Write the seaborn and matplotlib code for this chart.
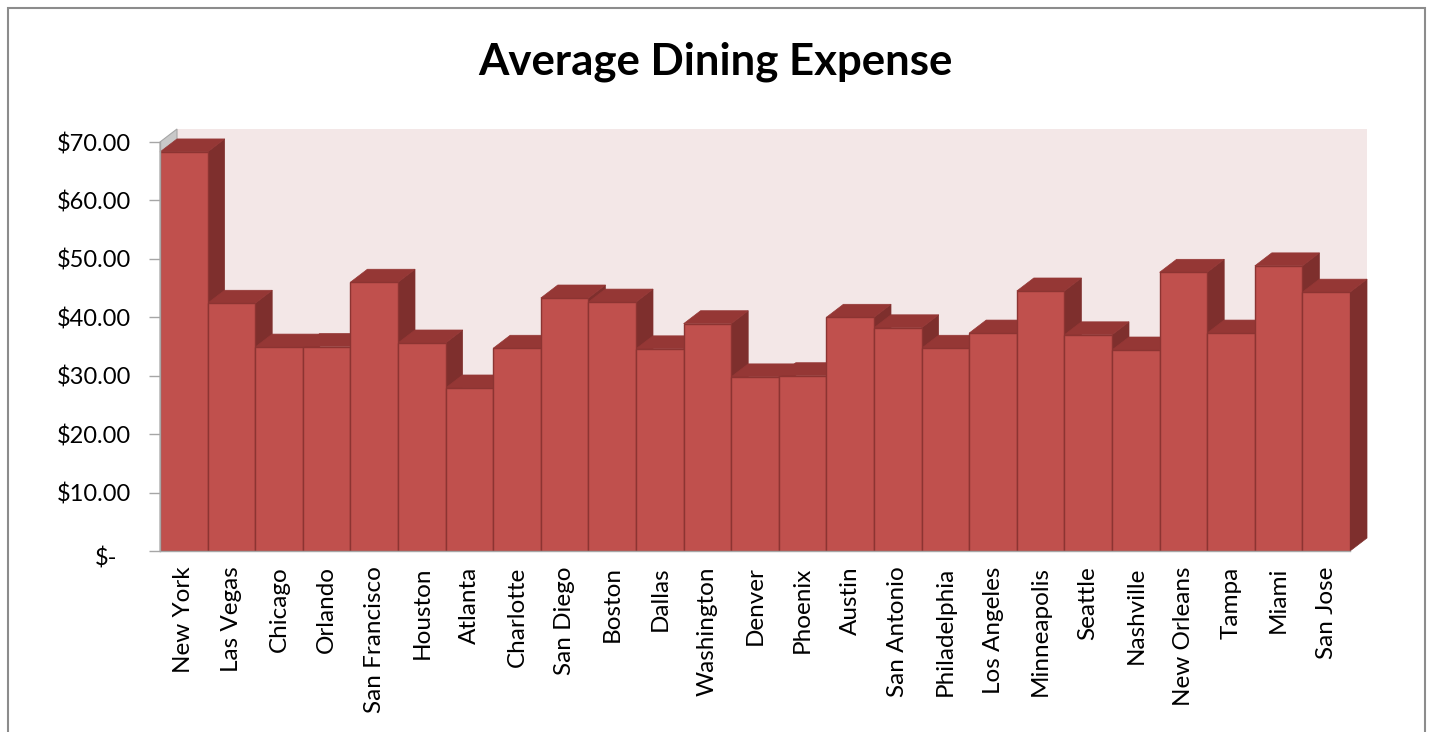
"""
Average dining expense by city, drawn as an Excel-style 3D column chart
"""
import matplotlib
matplotlib.use("Agg")
import matplotlib.pyplot as plt
import seaborn as sns
from matplotlib.patches import Polygon, Rectangle
from matplotlib.transforms import ScaledTranslation

cities = ["New York", "Las Vegas", "Chicago", "Orlando", "San Francisco",
          "Houston", "Atlanta", "Charlotte", "San Diego", "Boston", "Dallas",
          "Washington", "Denver", "Phoenix", "Austin", "San Antonio",
          "Philadelphia", "Los Angeles", "Minneapolis", "Seattle", "Nashville",
          "New Orleans", "Tampa", "Miami", "San Jose"]
expense = [68.3, 42.4, 34.9, 35.0, 46.0, 35.6, 27.9, 34.7, 43.3, 42.6, 34.6,
           38.9, 29.8, 30.0, 40.0, 38.2, 34.7, 37.3, 44.5, 37.0, 34.4, 47.7,
           37.3, 48.8, 44.3]
y_ticks = [0, 10, 20, 30, 40, 50, 60, 70]
y_tick_labels = ["$-", "$10.00", "$20.00", "$30.00", "$40.00", "$50.00",
                 "$60.00", "$70.00"]

FRONT = "#C0504D"
TOP = "#953735"
SIDE = "#7E2F2D"
EDGE = "#8C3432"
WALL = "#F3E7E7"
GRAY = "#A6A6A6"

sns.set_theme(style="white")
plt.rcParams['font.family'] = ['Lato', 'DejaVu Sans']

W, H = 1433, 732
fig = plt.figure(figsize=(W / 100, H / 100), dpi=100)
ax = fig.add_axes([160 / W, (H - 551) / H, 1190 / W, 409 / H])
ax.set_facecolor("none")

sns.barplot(x=cities, y=expense, color=FRONT, saturation=1, width=1.0,
            errorbar=None, edgecolor=EDGE, linewidth=1, ax=ax, zorder=3)

ax.set_xlim(-0.5, len(cities) - 0.5)
ax.set_ylim(0, 70)

# depth of the fake 3D effect in data units (about 17 px right, 13 px up)
dx = 17 / (1190 / len(cities))
dy = 13 / (409 / 70)

x0, x1 = ax.get_xlim()
ytop = ax.get_ylim()[1]

# back wall and left wall
ax.add_patch(Polygon([(x0 + dx, dy), (x1 + dx, dy), (x1 + dx, ytop + dy),
                      (x0 + dx, ytop + dy)], closed=True, facecolor=WALL,
                     edgecolor="none", zorder=0, clip_on=False))
ax.add_patch(Polygon([(x0, 0), (x0 + dx, dy), (x0 + dx, ytop + dy),
                      (x0, ytop)], closed=True, facecolor="#C8C8C8",
                     edgecolor=GRAY, linewidth=0.8, zorder=1, clip_on=False))

# side and top faces for each bar
for bar in list(ax.patches)[:len(cities)]:
    bx, bw, bh = bar.get_x(), bar.get_width(), bar.get_height()
    side = [(bx + bw, 0), (bx + bw + dx, dy), (bx + bw + dx, bh + dy),
            (bx + bw, bh)]
    top = [(bx, bh), (bx + bw, bh), (bx + bw + dx, bh + dy),
           (bx + dx, bh + dy)]
    ax.add_patch(Polygon(side, closed=True, facecolor=SIDE, edgecolor=SIDE,
                         linewidth=0.5, zorder=2, clip_on=False))
    ax.add_patch(Polygon(top, closed=True, facecolor=TOP, edgecolor=TOP,
                         linewidth=0.5, zorder=2, clip_on=False))

# axes styling
for name in ["top", "right"]:
    ax.spines[name].set_visible(False)
for name in ["left", "bottom"]:
    ax.spines[name].set_color(GRAY)
    ax.spines[name].set_linewidth(1)
    ax.spines[name].set_zorder(4)

ax.set_yticks(y_ticks)
ax.set_yticklabels(y_tick_labels, fontsize=17, color="black")
ax.tick_params(axis="y", left=True, length=8, width=1, color=GRAY, pad=13)
ax.tick_params(axis="x", bottom=False, length=0, pad=11, labelsize=17.5,
               labelcolor="black", labelrotation=90)
for lab in ax.get_xticklabels():
    lab.set_va("top")
    lab.set_ha("center")

# accounting style zero label sits further left and a bit lower
zero_lab = ax.get_yticklabels()[0]
zero_lab.set_transform(zero_lab.get_transform() +
                       ScaledTranslation(-13 / 100, -5 / 100,
                                         fig.dpi_scale_trans))

ax.set_xlabel("")
ax.set_ylabel("")

fig.text(715 / W, 1 - 62 / H, "Average Dining Expense", ha="center",
         va="center", fontsize=31.5, fontweight="bold", color="black")

# outer chart border
fig.add_artist(Rectangle((8 / W, -0.1), (1425 - 8) / W, 1 - 8 / H + 0.1,
                         transform=fig.transFigure, fill=False,
                         edgecolor="#8C8C8C", linewidth=1.5))

fig.savefig("out.png", dpi=100)
